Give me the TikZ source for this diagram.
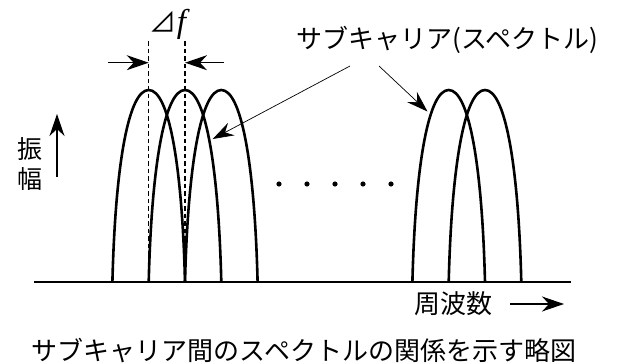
\documentclass[tikz,border=0pt]{standalone}
\usepackage{fontspec}
\newfontfamily\jp{Noto Sans CJK JP}
\newfontfamily\ser{Liberation Serif}
\usetikzlibrary{arrows.meta}
\tikzset{
  carrier/.style={line width=2.6pt},
  axisline/.style={line width=1.6pt},
  guide/.style={line width=1.4pt, dash pattern=on 4.5pt off 3pt},
  bigarrow/.style={line width=1.2pt, -{Stealth[length=22pt,width=15pt,inset=7pt]}},
  pointer/.style={line width=0.7pt, -{Stealth[length=21pt,width=14pt,inset=7pt]}},
  jptext/.style={inner sep=0pt, font=\jp\fontsize{26}{30}\selectfont},
}
\newcommand{\subarch}[1]{%
  \draw[carrier] (#1,282) .. controls (#1+3,162) and (#1+16.5,90) .. (#1+36.3,90)
    .. controls (#1+56.1,90) and (#1+69.6,162) .. (#1+72.6,282);}
\begin{document}
\begin{tikzpicture}[x=1pt,y=-1pt]
\useasboundingbox (0,0) rectangle (619,364);
% axis
\coordinate (ax0) at (34,282);
\coordinate (ax1) at (571,282);
\draw[axisline] (ax0) -- (ax1);
% arches
\subarch{112.4}
\subarch{148.7}
\subarch{185.0}
\subarch{412.4}
\subarch{448.7}
% dashed guides
\coordinate (d1t) at (148.7,41);
\coordinate (d1b) at (148.7,282);
\coordinate (d2t) at (185.0,41);
\coordinate (d2b) at (185.0,282);
\draw[guide] (d1t) -- (d1b);
\draw[guide] (d2t) -- (d2b);
% delta f arrows
\coordinate (la) at (108,62.7);
\coordinate (lb) at (148.7,62.7);
\coordinate (ra) at (224,62.7);
\coordinate (rb) at (185.0,62.7);
\draw[bigarrow] (la) -- (lb);
\draw[bigarrow] (ra) -- (rb);
\node[inner sep=0pt, anchor=base] (df) at (168,32) {{\jp\fontsize{27}{30}\selectfont ⊿}{\ser\itshape\fontsize{33}{36}\selectfont f}};
% subcarrier label
\node[jptext] (sub) at (447.5,40) {サブキャリア(スペクトル)};
\coordinate (p1s) at (350,66);
\coordinate (p1e) at (212.7,139);
\coordinate (p2s) at (379,66);
\coordinate (p2e) at (427.5,111.5);
\draw[pointer] (p1s) -- (p1e);
\draw[pointer] (p2s) -- (p2e);
% dots
\foreach \i/\x in {1/279,2/307,3/335,4/363,5/391}
  \fill (\x,184) circle (2.6pt);
% amplitude
\node[jptext, align=center, font=\jp\fontsize{25}{30}\selectfont] (amp) at (30,164) {振\\幅};
\coordinate (ya) at (57,177);
\coordinate (yb) at (57,114);
\draw[bigarrow] (ya) -- (yb);
% frequency
\node[jptext] (freq) at (453,304) {周波数};
\coordinate (fa) at (510,304);
\coordinate (fb) at (564,304);
\draw[bigarrow] (fa) -- (fb);
% caption
\node[jptext] (cap) at (304,351) {サブキャリア間のスペクトルの関係を示す略図};
\end{tikzpicture}
\end{document}
